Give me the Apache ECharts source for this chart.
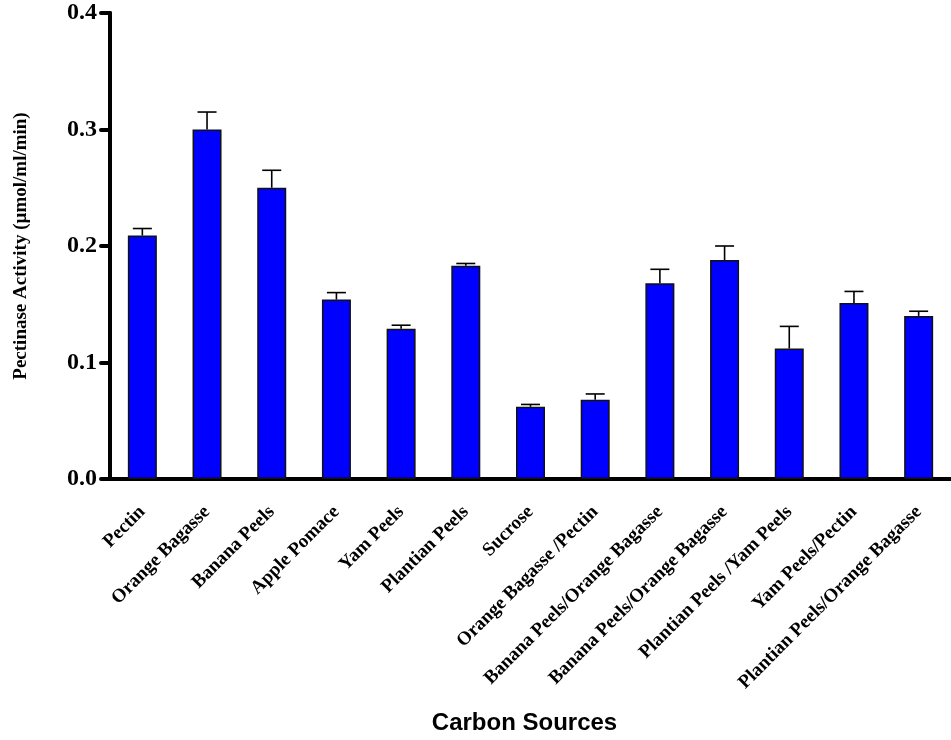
<!DOCTYPE html>
<html>
<head>
<meta charset="utf-8">
<script src="https://cdn.jsdelivr.net/npm/echarts@6/dist/echarts.min.js"></script>
<style>
  html, body { margin: 0; padding: 0; background: #fff; }
  #chart { width: 951px; height: 740px; }
</style>
</head>
<body>
<div id="chart"></div>
<script>
// Carbon sources tested and mean pectinase activity with standard deviation
const categories = [
  'Pectin', 'Orange Bagasse', 'Banana Peels', 'Apple Pomace', 'Yam Peels',
  'Plantian Peels', 'Sucrose', 'Orange Bagasse /Pectin', 'Banana Peels/Orange Bagasse',
  'Banana Peels/Orange Bagasse', 'Plantian Peels /Yam Peels', 'Yam Peels/Pectin',
  'Plantian Peels/Orange Bagasse'
];
const activity = [0.209, 0.300, 0.250, 0.154, 0.129, 0.183, 0.062, 0.068, 0.168, 0.188, 0.112, 0.151, 0.140];
const sd = [0.006, 0.015, 0.015, 0.006, 0.003, 0.002, 0.002, 0.005, 0.012, 0.012, 0.019, 0.010, 0.004];
const yTicks = [0, 0.1, 0.2, 0.3, 0.4];

const serif = '"Liberation Serif", "Times New Roman", serif';
const sans = '"Liberation Sans", Arial, sans-serif';

const chart = echarts.init(document.getElementById('chart'));

chart.setOption({
  animation: false,
  grid: { left: 110, right: -3, top: 13, bottom: 259 },
  xAxis: {
    type: 'category',
    data: categories,
    name: 'Carbon Sources',
    nameLocation: 'middle',
    nameGap: 232,
    nameTextStyle: {
      fontFamily: sans, fontWeight: 'bold', fontSize: 24, color: '#000',
      padding: [0, 12, 0, 0]
    },
    axisLine: { lineStyle: { color: '#000', width: 4 } },
    axisTick: { alignWithLabel: true, length: 8, lineStyle: { color: '#000', width: 4, cap: 'round' } },
    axisLabel: {
      interval: 0, rotate: 45, margin: 30,
      fontFamily: serif, fontWeight: 'bold', fontSize: 19, color: '#000'
    }
  },
  yAxis: {
    type: 'value',
    min: 0, max: 0.4, interval: 0.1,
    name: 'Pectinase Activity (\u00b5mol/ml/min)',
    nameLocation: 'middle',
    nameGap: 79,
    nameTextStyle: { fontFamily: serif, fontWeight: 'bold', fontSize: 19, color: '#000' },
    splitLine: { show: false },
    axisLine: { show: true, lineStyle: { color: '#000', width: 4 } },
    axisTick: { show: true, length: 9, lineStyle: { color: '#000', width: 4, cap: 'round' } },
    axisLabel: {
      margin: 13,
      fontFamily: serif, fontWeight: 'bold', fontSize: 24, color: '#000',
      formatter: v => yTicks.includes(Math.round(v * 10) / 10) ? v.toFixed(1) : ''
    }
  },
  series: [
    {
      type: 'bar',
      data: activity,
      barWidth: 29,
      itemStyle: { color: '#0000ff', borderColor: '#111', borderWidth: 1.5 },
      z: 2
    },
    {
      type: 'custom',
      data: activity.map((v, i) => [i, v, v + sd[i]]),
      encode: { x: 0, y: [1, 2] },
      z: 3,
      renderItem: function (params, api) {
        const base = api.coord([api.value(0), api.value(1)]);
        const top = api.coord([api.value(0), api.value(2)]);
        const half = 9.5;
        const style = { stroke: '#000', lineWidth: 1.6 };
        return {
          type: 'group',
          children: [
            { type: 'line', shape: { x1: base[0], y1: base[1], x2: top[0], y2: top[1] }, style },
            { type: 'line', shape: { x1: top[0] - half, y1: top[1], x2: top[0] + half, y2: top[1] }, style }
          ]
        };
      }
    }
  ]
});
</script>
</body>
</html>
